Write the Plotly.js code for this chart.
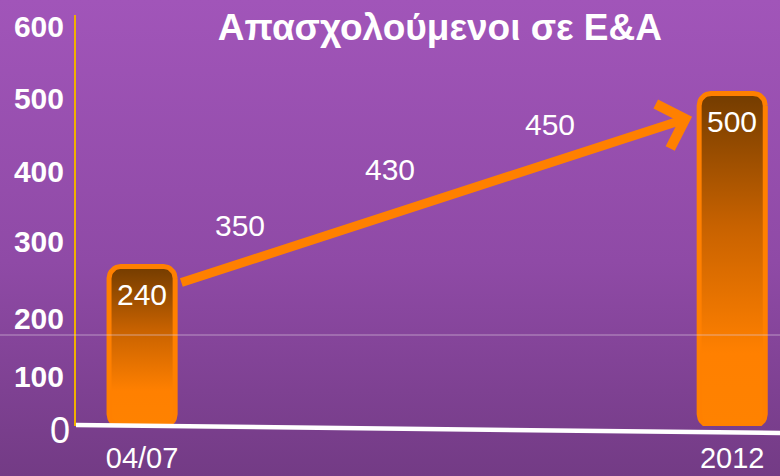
<!DOCTYPE html>
<html>
<head>
<meta charset="utf-8">
<script src="https://cdn.plot.ly/plotly-3.0.1.min.js"></script>
<style>
  html, body { margin: 0; padding: 0; }
  #chart { width: 780px; height: 476px;
    background: linear-gradient(to bottom, #a155b9 0%, #8f4aa6 55%, #733b85 100%); }
</style>
</head>
<body>
<div id="chart"></div>
<script>
// ---- data ----
const categories = ['04/07', '2012'];
const values = [240, 500];
const trendLabels = ['350', '430', '450'];
const yTickText = ['100', '200', '300', '400', '500', '600'];
const yTickPos = [74, 162, 277, 382, 492, 600];   // label positions as drawn on the slide
const titleText = 'Απασχολούμενοι σε Ε&Α';

// ---- layout helpers ----
const FONT = 'Liberation Sans, Arial, sans-serif';
const xRange = [-0.112, 1.081];
const yRange = [0, 618];
const barHalf = 0.056;
const rx = 0.02, ry = 18;
const trendPos = [[0.166, 302], [0.420, 385], [0.691, 453]];

function roundedRect(xc, top) {
  const xs = [], ys = [];
  const x0 = xc - barHalf, x1 = xc + barHalf, y0 = 0, y1 = top;
  const corners = [
    [x1 - rx, y1 - ry, 0, Math.PI / 2],
    [x0 + rx, y1 - ry, Math.PI / 2, Math.PI],
    [x0 + rx, y0 + ry, Math.PI, 1.5 * Math.PI],
    [x1 - rx, y0 + ry, 1.5 * Math.PI, 2 * Math.PI]
  ];
  corners.forEach(([cx, cy, a0, a1]) => {
    for (let i = 0; i <= 8; i++) {
      const a = a0 + (a1 - a0) * i / 8;
      xs.push(cx + rx * Math.cos(a));
      ys.push(cy + ry * Math.sin(a));
    }
  });
  xs.push(xs[0]); ys.push(ys[0]);
  return {xs, ys};
}

const traces = values.map((v, i) => {
  const r = roundedRect(i, v);
  return {
    type: 'scatter', mode: 'lines', x: r.xs, y: r.ys,
    fill: 'toself',
    fillgradient: {type: 'vertical',
      colorscale: [[0, '#ff8200'], [0.22, '#ff8000'], [0.6, '#c86200'], [1, '#733c00']]},
    line: {color: '#ff8000', width: 5},
    hoverinfo: 'skip', showlegend: false
  };
});

const annotations = [];
values.forEach((v, i) => {
  annotations.push({x: i, y: v, xref: 'x', yref: 'y', text: String(v), showarrow: false,
    yanchor: 'top', yshift: -10, font: {family: FONT, size: 30, color: '#ffffff'}});
});
trendLabels.forEach((t, i) => {
  annotations.push({x: trendPos[i][0], y: trendPos[i][1], xref: 'x', yref: 'y', text: t,
    showarrow: false, font: {family: FONT, size: 30, color: '#ffffff'}});
});
// arrow from first bar to second
annotations.push({x: 0.932, y: 465, ax: 0.064, ay: 215, xref: 'x', yref: 'y', axref: 'x', ayref: 'y',
  text: '', showarrow: true, arrowhead: 4, arrowsize: 1, arrowwidth: 9, arrowcolor: '#ff8000'});
// zero label
annotations.push({x: -0.006, y: -0.01, xref: 'paper', yref: 'paper', text: '0', showarrow: false,
  xanchor: 'right', yanchor: 'middle', font: {family: FONT, size: 36, color: '#ffffff'}});

const layout = {
  width: 780, height: 476,
  margin: {l: 76, r: 0, t: 15, b: 50},
  paper_bgcolor: 'rgba(0,0,0,0)', plot_bgcolor: 'rgba(0,0,0,0)',
  title: {text: titleText, xref: 'container', yref: 'container', x: 0.564, y: 1 - 27 / 476,
    xanchor: 'center', yanchor: 'middle',
    font: {family: FONT, size: 37, color: '#ffffff', weight: 'bold'}},
  xaxis: {range: xRange, tickvals: [0, 1], ticktext: categories, showgrid: false, zeroline: false,
    showline: false, ticks: '', ticklabelstandoff: 12,
    tickfont: {family: FONT, size: 29, color: '#ffffff'}, fixedrange: true},
  yaxis: {range: yRange, tickvals: yTickPos, ticktext: yTickText, showgrid: false, zeroline: false,
    showline: true, linecolor: '#f0b000', linewidth: 2, ticks: '', ticklabelstandoff: 4,
    tickfont: {family: FONT, size: 30, color: '#ffffff', weight: 'bold'}, fixedrange: true},
  shapes: [
    {type: 'line', xref: 'paper', yref: 'paper', x0: -0.108, x1: 1, y0: 0.2214, y1: 0.2214,
      line: {color: 'rgba(225,205,225,0.6)', width: 1}, layer: 'above'},
    {type: 'line', xref: 'paper', yref: 'paper', x0: 0, x1: 1, y0: 0.0024, y1: -0.017,
      line: {color: '#ffffff', width: 4.5}, layer: 'above'}
  ],
  annotations: annotations,
  showlegend: false
};

Plotly.newPlot('chart', traces, layout, {displayModeBar: false, staticPlot: true});
</script>
</body>
</html>
